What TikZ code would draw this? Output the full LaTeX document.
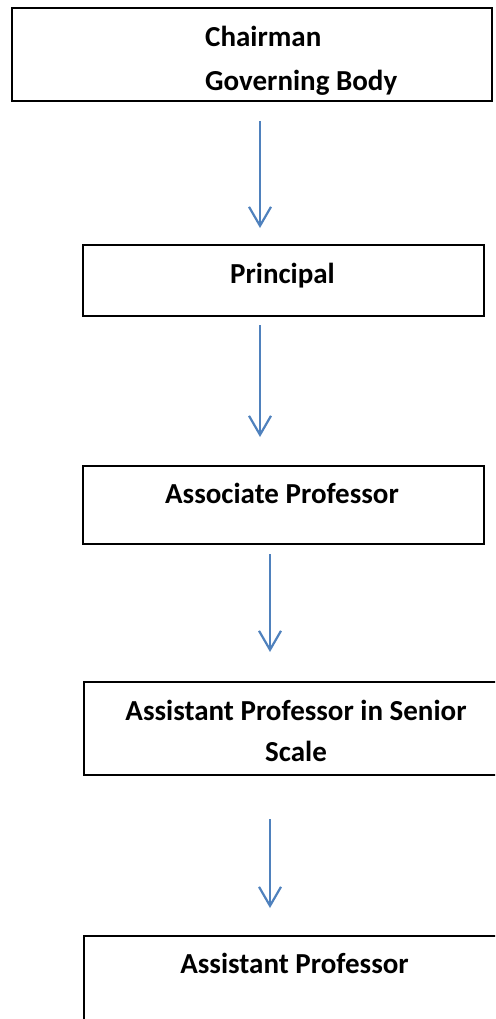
\documentclass[tikz,border=0pt]{standalone}
\usepackage{fontspec}
\setmainfont{Carlito}
\usetikzlibrary{arrows.meta}
\definecolor{arrowblue}{RGB}{79,129,189}
\tikzset{
  box/.style={draw=black, line width=2pt, rectangle, inner sep=0pt, anchor=north west},
  lbl/.style={inner sep=0pt, font=\bfseries\fontsize{29}{35}\selectfont},
  arr/.style={draw=arrowblue, line width=2.2pt, -{Straight Barb[length=19pt,width=22pt]}}
}
\begin{document}
\begin{tikzpicture}[x=1pt,y=-1pt]
\useasboundingbox (0,0) rectangle (495,1019);
\clip (0,0) rectangle (495,1019);
% boxes
\node[box, minimum width=480pt, minimum height=93pt] (b1) at (11,7) {};
\node[box, minimum width=401pt, minimum height=71pt] (b2) at (82,244) {};
\node[box, minimum width=401pt, minimum height=78pt] (b3) at (82,465) {};
\node[box, minimum width=480pt, minimum height=93pt] (b4) at (83,681) {};
\node[box, minimum width=480pt, minimum height=120pt] (b5) at (83,935) {};
% labels
\node[lbl, anchor=base west] (t1a) at (205,47) {Chairman};
\node[lbl, anchor=base west] (t1b) at (205,91) {Governing Body};
\node[lbl, anchor=base] (t2) at (282.5,283) {Principal};
\node[lbl, anchor=base] (t3) at (282,503) {Associate Professor};
\node[lbl, anchor=base] (t4a) at (296,720) {Assistant Professor in Senior};
\node[lbl, anchor=base] (t4b) at (296,761) {Scale};
\node[lbl, anchor=base] (t5) at (294.5,973) {Assistant Professor};
% arrow ends
\coordinate (a1s) at (260,121);
\coordinate (a1e) at (260,228);
\coordinate (a2s) at (260,325);
\coordinate (a2e) at (260,437);
\coordinate (a3s) at (270,554);
\coordinate (a3e) at (270,652);
\coordinate (a4s) at (270,819);
\coordinate (a4e) at (270,908);
\draw[arr] (a1s) -- (a1e);
\draw[arr] (a2s) -- (a2e);
\draw[arr] (a3s) -- (a3e);
\draw[arr] (a4s) -- (a4e);
\end{tikzpicture}
\end{document}
